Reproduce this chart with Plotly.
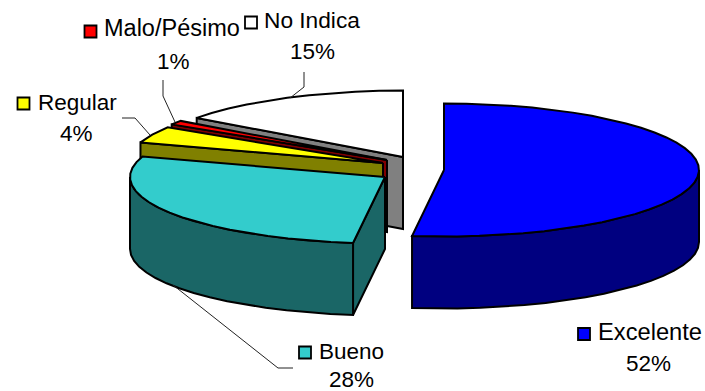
import numpy as np
import plotly.graph_objects as go

# Survey responses, in clockwise order from twelve o'clock
categories = ["Excelente", "Bueno", "Regular", "Malo/Pésimo", "No Indica"]
percentages = [52, 28, 4, 1, 15]

# Face and side colours of each slice
top_colors = ["#0000FF", "#33CCCC", "#FFFF00", "#FF0000", "#FFFFFF"]
side_colors = ["#000080", "#1A6666", "#808000", "#800000", "#808080"]

# Projected pie: ellipse radii and extrusion depth, pixel-sized axes
RX, RY, DEPTH = 255.0, 66.5, 72.0
# Apex of each exploded slice
apex_x = [444, 385, 383, 387, 403]
apex_y = [170, 177, 163, 160, 157]

# Legend key, name label and percentage label placement
key_x = [584, 305, 23.5, 90.5, 251]
key_y = [334, 352.5, 103.5, 31.5, 22.5]
name_x = [595.5, 316.5, 35.5, 102, 262]
name_y = [332, 351, 102, 28, 20]
name_size = [23.7, 22.5, 22.5, 23.5, 22.7]
pct_x = [648, 351, 76, 173, 312]
pct_y = [363, 379, 133, 61, 51]

# Leader lines running from the labels to the slices
leader_x = [[293, 278, 173], [122, 135, 150], [163, 163, 175], [304, 304, 290]]
leader_y = [[368, 368, 285], [118, 118, 135], [80, 96, 122], [72, 87, 98]]


def point(i, deg, drop=0.0):
    t = np.radians(deg)
    return apex_x[i] + RX * np.sin(t), apex_y[i] - RY * np.cos(t) + drop


def arc(i, a, b, drop=0.0):
    n = max(2, int(abs(b - a) / 5) + 1)
    return point(i, np.linspace(a, b, n), drop)


fig = go.Figure()


def poly(xs, ys, fill):
    fig.add_trace(go.Scatter(
        x=list(xs), y=list(ys), mode="lines", fill="toself", fillcolor=fill,
        line=dict(color="#000000", width=2), hoverinfo="skip", showlegend=False,
    ))


def cut_wall(i, deg):
    ex, ey = point(i, deg)
    poly([apex_x[i], ex, ex, apex_x[i], apex_x[i]],
         [apex_y[i], ey, ey + DEPTH, apex_y[i] + DEPTH, apex_y[i]], side_colors[i])


def outer_wall(i, a, b):
    tx, ty = arc(i, a, b)
    bx, by = arc(i, b, a, DEPTH)
    poly(np.r_[tx, bx, tx[0]], np.r_[ty, by, ty[0]], side_colors[i])


def top_face(i, a, b):
    tx, ty = arc(i, a, b)
    poly(np.r_[apex_x[i], tx, apex_x[i]], np.r_[apex_y[i], ty, apex_y[i]], top_colors[i])


# Slice boundaries in degrees, clockwise from the top
edges = np.cumsum([0] + percentages) * 3.6

# Painted from back to front so nearer slices hide the farther ones
for i in [4, 3, 2, 1, 0]:
    a, b = edges[i], edges[i + 1]
    if a > 180:
        cut_wall(i, a)
    if i == 1:
        outer_wall(i, a, 270)
    if i == 0:
        outer_wall(i, 90, b)
    top_face(i, a, b)

for lx, ly in zip(leader_x, leader_y):
    fig.add_trace(go.Scatter(
        x=lx, y=ly, mode="lines", line=dict(color="#222222", width=1),
        hoverinfo="skip", showlegend=False,
    ))

fig.add_trace(go.Scatter(
    x=key_x, y=key_y, mode="markers", hoverinfo="skip", showlegend=False,
    marker=dict(symbol="square", size=12, color=top_colors,
                line=dict(color="#000000", width=1.8)),
))

annotations = []
for name, v, nx, ny, ns, px, py in zip(categories, percentages, name_x, name_y, name_size, pct_x, pct_y):
    annotations.append(dict(x=nx, y=ny, text=name, xanchor="left", yanchor="middle",
                            showarrow=False, xref="x", yref="y",
                            font=dict(family="Liberation Sans, Arial, sans-serif", size=ns, color="#000000")))
    annotations.append(dict(x=px, y=py, text=f"{v}%", xanchor="center", yanchor="middle",
                            showarrow=False, xref="x", yref="y",
                            font=dict(family="Liberation Sans, Arial, sans-serif", size=22.5, color="#000000")))

fig.update_layout(
    width=705, height=391, autosize=False,
    margin=dict(l=0, r=0, t=0, b=0),
    paper_bgcolor="#FFFFFF", plot_bgcolor="#FFFFFF",
    xaxis=dict(range=[0, 705], visible=False, fixedrange=True),
    yaxis=dict(range=[391, 0], visible=False, fixedrange=True),
    annotations=annotations,
)

fig.write_html("out.html", config=dict(displayModeBar=False))
